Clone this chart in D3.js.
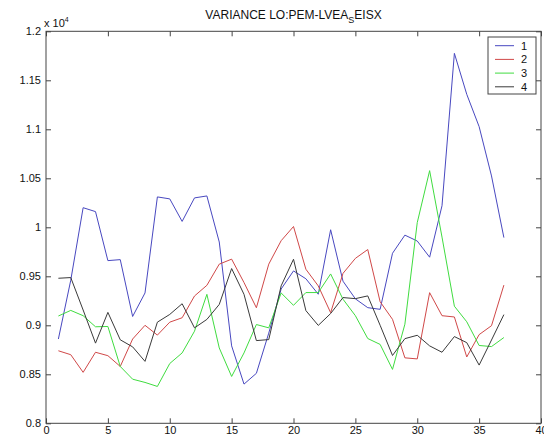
<!DOCTYPE html>
<html>
<head>
<meta charset="utf-8">
<script src="https://cdn.jsdelivr.net/npm/d3@7"></script>
<style>
  html, body { margin: 0; padding: 0; background: #fff; }
  svg { display: block; }
  text { font-family: "Liberation Sans", Arial, Helvetica, sans-serif; fill: #111; }
</style>
</head>
<body>
<figure id="chart" style="margin:0"></figure>
<script>
// sample index along x
const idx = [1, 2, 3, 4, 5, 6, 7, 8, 9, 10, 11, 12, 13, 14, 15, 16, 17, 18, 19,
  20, 21, 22, 23, 24, 25, 26, 27, 28, 29, 30, 31, 32, 33, 34, 35, 36, 37];

const s1 = [8860, 9460, 10200, 10160, 9660, 9670, 9090, 9330, 10310, 10290,
  10060, 10300, 10320, 9850, 8790, 8400, 8510, 8920, 9370, 9555,
  9475, 9317, 9975, 9450, 9270, 9180, 9163, 9735, 9920, 9860,
  9695, 10220, 11775, 11357, 11027, 10524, 9895];
const s2 = [8740, 8700, 8520, 8725, 8690, 8580, 8860, 9000, 8900, 9032,
  9077, 9299, 9408, 9624, 9675, 9436, 9179, 9624, 9863, 10008,
  9572, 9402, 9129, 9530, 9683, 9773, 9240, 9061, 8668, 8657,
  9333, 9098, 9085, 8677, 8905, 8996, 9410];
const s3 = [9095, 9152, 9098, 8985, 8988, 8580, 8450, 8417, 8376, 8610,
  8718, 8940, 9316, 8769, 8478, 8718, 9008, 8974, 9330, 9204,
  9334, 9334, 9524, 9266, 9098, 8865, 8805, 8550, 9011, 10048,
  10578, 9900, 9195, 9036, 8794, 8783, 8875];
const s4 = [9480, 9487, 9156, 8818, 9132, 8852, 8780, 8632, 9032, 9111,
  9220, 8974, 9060, 9213, 9579, 9316, 8844, 8854, 9402, 9674,
  9150, 8999, 9120, 9283, 9272, 9300, 9000, 8692, 8864, 8898,
  8790, 8725, 8885, 8823, 8594, 8850, 9109];

const legendNames = ["1", "2", "3", "4"];
const xTicks = [0, 5, 10, 15, 20, 25, 30, 35, 40];
const yTicks = [8000, 8500, 9000, 9500, 10000, 10500, 11000, 11500, 12000];

const colors = ["#4848c0", "#d04848", "#40dc40", "#3a3a3a"];
const series = [s1, s2, s3, s4];

const W = 544, H = 440;
const box = { left: 46, right: 541, top: 31.3, bottom: 423.3 };

const svg = d3.select("figure#chart")
  .append("svg")
  .attr("width", W)
  .attr("height", H);

const x = d3.scaleLinear().domain([0, 40]).range([box.left, box.right]);
const y = d3.scaleLinear().domain([8000, 12000]).range([box.bottom, box.top]);

const fmt = v => String(+(v / 10000).toFixed(2));
const axisColor = "#444";

// axes: ticks point inward like matlab
svg.append("g")
  .attr("transform", "translate(0," + box.bottom + ")")
  .call(d3.axisBottom(x).tickValues(xTicks).tickSizeInner(-5).tickSizeOuter(0).tickPadding(3))
  .call(g => g.selectAll("text").style("font-size", "11px").attr("fill", "#111"));

svg.append("g")
  .attr("transform", "translate(" + box.left + ",0)")
  .call(d3.axisLeft(y).tickValues(yTicks).tickFormat(fmt).tickSizeInner(-5).tickSizeOuter(0).tickPadding(5))
  .call(g => g.selectAll("text").style("font-size", "11px").attr("fill", "#111"));

svg.append("g")
  .attr("transform", "translate(0," + box.top + ")")
  .call(d3.axisTop(x).tickValues(xTicks).tickSizeInner(-5).tickSizeOuter(0).tickFormat(""));

svg.append("g")
  .attr("transform", "translate(" + box.right + ",0)")
  .call(d3.axisRight(y).tickValues(yTicks).tickSizeInner(-5).tickSizeOuter(0).tickFormat(""));

svg.selectAll(".domain").remove();
svg.selectAll(".tick line").attr("stroke", axisColor);

svg.append("rect")
  .attr("x", box.left)
  .attr("y", box.top)
  .attr("width", box.right - box.left)
  .attr("height", box.bottom - box.top)
  .attr("fill", "none")
  .attr("stroke", axisColor)
  .attr("stroke-width", 1);

// lines
const line = d3.line()
  .x((d, i) => x(idx[i]))
  .y(d => y(d));

svg.append("g")
  .selectAll("path")
  .data(series)
  .enter()
  .append("path")
  .attr("d", d => line(d))
  .attr("fill", "none")
  .attr("stroke", (d, i) => colors[i])
  .attr("stroke-width", 1);

// exponent label
const ex = svg.append("text")
  .attr("x", 44)
  .attr("y", 27)
  .style("font-size", "11px");
ex.append("tspan").text("x 10");
ex.append("tspan").attr("dy", -5).style("font-size", "7px").text("4");

// title
const title = svg.append("text")
  .attr("x", (box.left + box.right) / 2)
  .attr("y", 19)
  .attr("text-anchor", "middle")
  .style("font-size", "12px");
title.append("tspan").text("VARIANCE LO:PEM-LVEA");
title.append("tspan").attr("dy", 4).style("font-size", "9px").text("S");
title.append("tspan").attr("dy", -4).text("EISX");

// legend
const lg = svg.append("g");
lg.append("rect")
  .attr("x", 488)
  .attr("y", 37)
  .attr("width", 48)
  .attr("height", 57)
  .attr("fill", "#fff")
  .attr("stroke", axisColor);

const rows = lg.selectAll("g.row")
  .data(legendNames)
  .enter()
  .append("g")
  .attr("class", "row")
  .attr("transform", (d, i) => "translate(0," + (45.7 + i * 13.7) + ")");

rows.append("line")
  .attr("x1", 495).attr("x2", 514)
  .attr("y1", 0).attr("y2", 0)
  .attr("stroke", (d, i) => colors[i]);

rows.append("text")
  .attr("x", 521)
  .attr("y", 4)
  .style("font-size", "11px")
  .text(d => d);
</script>
</body>
</html>
